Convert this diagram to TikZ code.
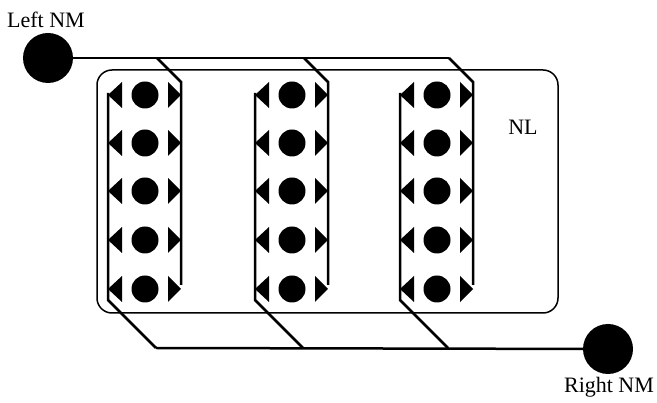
\documentclass[tikz,border=0pt]{standalone}
\usepackage{fontspec}
\setmainfont{Liberation Serif}
\usetikzlibrary{positioning}

\begin{document}
\begin{tikzpicture}[
  x=1pt, y=-1pt,
  nm/.style={circle, fill, inner sep=0pt, minimum size=50pt},
  dot/.style={circle, fill, inner sep=0pt, minimum size=27pt},
  lbl/.style={font=\fontsize{22}{24}\selectfont, inner sep=0pt},
  wire/.style={line width=2.5pt, line join=miter},
  frame/.style={draw, line width=1.5pt, rounded corners=15pt, inner sep=0pt}
]
\useasboundingbox (0,0) rectangle (657,403);

% layer box
\node[frame, minimum width=461pt, minimum height=243pt] (nl) at (327.5,191.5) {};
\node[lbl] (nltext) at (523,127) {NL};

% neuromodulator ends
\node[nm] (lnm) at (48,58) {};
\node[lbl] (lnmtext) at (46,20) {Left NM};
\node[nm] (rnm) at (608,349) {};
\node[lbl] (rnmtext) at (609,387) {Right NM};

% columns of units
\foreach \c/\x in {1/145, 2/292, 3/437} {
  \coordinate (t\c) at (\x+12,58);
  \coordinate (b\c) at (\x+11,348);
  \foreach \r/\y in {1/95, 2/143, 3/191, 4/240, 5/289} {
    \node[dot] (d\c\r) at (\x,\y) {};
    \fill (\x-37,\y) -- (\x-23,\y-13) -- (\x-23,\y+13) -- cycle;
    \fill (\x+36,\y) -- (\x+23,\y-13) -- (\x+23,\y+13) -- cycle;
  }
  \draw[wire] (t\c) -- (\x+36,82) -- (\x+36,285);
  \draw[wire] (\x-37,93) -- (\x-37,300) -- (b\c);
}

% buses
\draw[wire] (lnm) -- (t3);
\draw[wire] (b1) -- (rnm);
\end{tikzpicture}
\end{document}
